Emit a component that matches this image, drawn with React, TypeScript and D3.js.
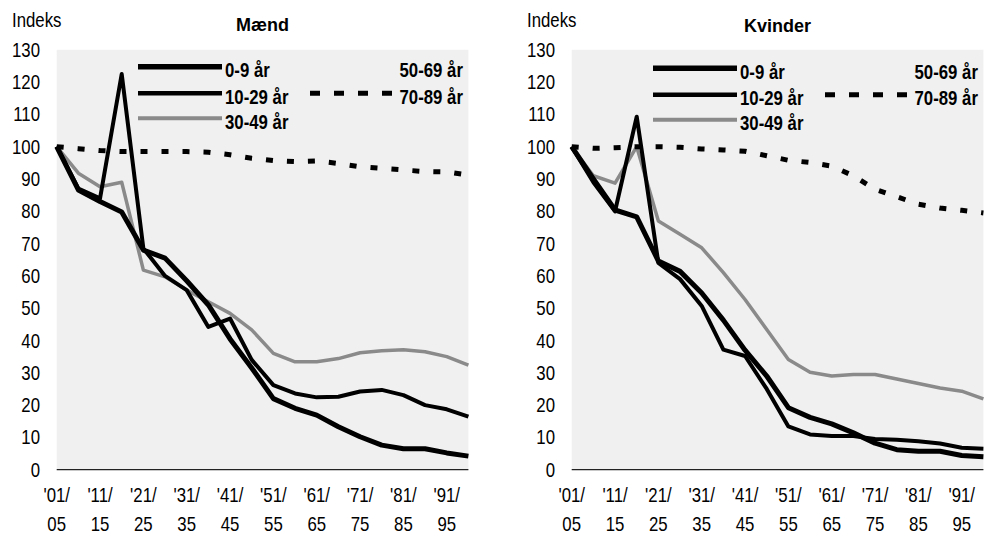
import React from "react";
import * as d3 from "d3";

const periods = [
  "1901-05", "1906-10", "1911-15", "1916-20", "1921-25", "1926-30", "1931-35", "1936-40", "1941-45", "1946-50",
  "1951-55", "1956-60", "1961-65", "1966-70", "1971-75", "1976-80", "1981-85", "1986-90", "1991-95", "1996-00",
];
const tickPeriods = ["1901-05", "1911-15", "1921-25", "1931-35", "1941-45", "1951-55", "1961-65", "1971-75", "1981-85", "1991-95"];
const tickTop = ["'01/", "'11/", "'21/", "'31/", "'41/", "'51/", "'61/", "'71/", "'81/", "'91/"];
const tickBottom = ["05", "15", "25", "35", "45", "55", "65", "75", "85", "95"];
const yTicks = [0, 10, 20, 30, 40, 50, 60, 70, 80, 90, 100, 110, 120, 130];

const legendLeft = ["0-9 år", "10-29 år", "30-49 år"];
const legendRight = ["50-69 år", "70-89 år"];

// Mænd
const men0_9 = [100, 86.6, 83, 79.8, 68, 65.5, 58.5, 51, 40.5, 31.5, 22, 19, 16.9, 13.3, 10.2, 7.6, 6.5, 6.5, 5.2, 4.2];
const men10_29 = [100, 87, 84, 122.5, 68.5, 60, 55.6, 44.2, 46.8, 34, 26.2, 23.6, 22.4, 22.6, 24.2, 24.7, 23.1, 20, 18.7, 16.4];
const men30_49 = [100, 91.8, 87.6, 89, 61.8, 59.7, 55.6, 52, 48.4, 43.3, 36, 33.4, 33.4, 34.4, 36.2, 36.8, 37.1, 36.5, 35, 32.4];
const men70_89 = [100, 99.4, 98.8, 98.5, 98.5, 98.5, 98.5, 98.3, 97.5, 96.4, 95.7, 95.4, 95.6, 94.8, 93.8, 93.3, 92.8, 92.3, 92.2, 91.2];

// Kvinder
const women0_9 = [100, 90, 80.4, 78.3, 64.6, 61.4, 54.7, 46.3, 37, 29, 19.2, 16.2, 14.2, 11.4, 8.2, 6.2, 5.7, 5.7, 4.4, 4];
const women10_29 = [100, 89, 80, 109.3, 64, 59, 50.7, 37.2, 35.2, 25, 13.4, 10.9, 10.4, 10.4, 9.5, 9.3, 8.8, 8.1, 6.8, 6.5];
const women30_49 = [100, 91, 88.7, 100, 77, 72.9, 68.7, 61, 52.7, 43.4, 34.1, 30.2, 29, 29.5, 29.5, 28.1, 26.7, 25.3, 24.3, 21.9];
const women70_89 = [100, 99.5, 99.7, 100, 100, 99.8, 99.3, 99, 98.6, 97.2, 95.8, 95.1, 94, 91, 86.8, 84.5, 82.2, 81, 80.3, 79.5];

const FONT = "'Liberation Sans', Arial, sans-serif";
const SX = 0.84;

type NTProps = {
  x: number;
  y: number;
  anchor?: "start" | "middle" | "end";
  bold?: boolean;
  size?: number;
  children: React.ReactNode;
};

// narrow text: Arial metrics squeezed horizontally, like Arial Narrow
function NT({ x, y, anchor = "start", bold = false, size = 20, children }: NTProps) {
  return (
    <text
      transform={`translate(${x},${y}) scale(${SX},1)`}
      fontFamily={FONT}
      fontSize={size}
      fontWeight={bold ? "bold" : "normal"}
      textAnchor={anchor}
      fill="#000"
    >
      {children}
    </text>
  );
}

type PanelProps = {
  ox: number;
  title: string;
  s0_9: number[];
  s10_29: number[];
  s30_49: number[];
  s70_89: number[];
  dy?: number;
};

function Panel({ ox, title, s0_9, s10_29, s30_49, s70_89, dy = 0 }: PanelProps) {
  const x0 = ox + 56.7;
  const x1 = ox + 468.4;
  const x = d3.scalePoint<string>().domain(periods).range([x0, x1]);
  const y = d3.scaleLinear().domain([0, 130]).range([469.7, 49.8]);
  const line = d3
    .line<number>()
    .x((_, i) => x(periods[i]) as number)
    .y((d) => y(d))
    .curve(d3.curveLinear);

  const legX0 = ox + 138;
  const legX1 = ox + 222;
  const legY = [66.7 + dy, 93.3 + dy, 118.3 + dy];

  return (
    <g>
      <rect x={x0} y={y(130)} width={x1 - x0} height={y(0) - y(130)} fill="#f0f0f0" />
      <line x1={x0} x2={x1} y1={y(0)} y2={y(0)} stroke="#222" strokeWidth={1.2} />
      <NT x={ox + 12} y={27}>Indeks</NT>
      <text x={(x0 + x1) / 2} y={30.5 + dy} fontFamily={FONT} fontWeight="bold" fontSize={18} textAnchor="middle" fill="#000">
        {title}
      </text>
      {yTicks.map((t) => (
        <NT key={t} x={ox + 40} y={y(t) + 7} anchor="end">
          {t}
        </NT>
      ))}
      {tickPeriods.map((p, k) => (
        <g key={p}>
          <NT x={x(p) as number} y={502} anchor="middle">
            {tickTop[k]}
          </NT>
          <NT x={x(p) as number} y={531} anchor="middle">
            {tickBottom[k]}
          </NT>
        </g>
      ))}

      <path d={line(s30_49) || ""} fill="none" stroke="#8a8a8a" strokeWidth={3.5} strokeLinejoin="round" />
      <path d={line(s10_29) || ""} fill="none" stroke="#000" strokeWidth={4} strokeLinejoin="round" />
      <path d={line(s0_9) || ""} fill="none" stroke="#000" strokeWidth={5} strokeLinejoin="round" />
      <path d={line(s70_89) || ""} fill="none" stroke="#000" strokeWidth={5} strokeDasharray="7,14" />

      {/* legend */}
      <line x1={legX0} x2={legX1} y1={legY[0]} y2={legY[0]} stroke="#000" strokeWidth={5.5} />
      <line x1={legX0} x2={legX1} y1={legY[1]} y2={legY[1]} stroke="#000" strokeWidth={4.5} />
      <line x1={legX0} x2={legX1} y1={legY[2]} y2={legY[2]} stroke="#8a8a8a" strokeWidth={4} />
      {legendLeft.map((l, i) => (
        <NT key={l} x={legX1 + 3} y={legY[i] + 10.5} bold>
          {l}
        </NT>
      ))}
      <line x1={ox + 310} x2={ox + 392} y1={legY[1]} y2={legY[1]} stroke="#000" strokeWidth={5} strokeDasharray="10,14" />
      {legendRight.map((l, i) => (
        <NT key={l} x={ox + 463} y={legY[i] + 10.5} anchor="end" bold>
          {l}
        </NT>
      ))}
    </g>
  );
}

export default function App() {
  return (
    <svg
      width={993}
      height={537}
      viewBox="0 0 993 537"
      style={{ position: "absolute", left: 0, top: 0, background: "#fff", display: "block" }}
    >
      <Panel ox={0} title="Mænd" s0_9={men0_9} s10_29={men10_29} s30_49={men30_49} s70_89={men70_89} />
      <Panel ox={515} title="Kvinder" s0_9={women0_9} s10_29={women10_29} s30_49={women30_49} s70_89={women70_89} dy={1.5} />
    </svg>
  );
}
